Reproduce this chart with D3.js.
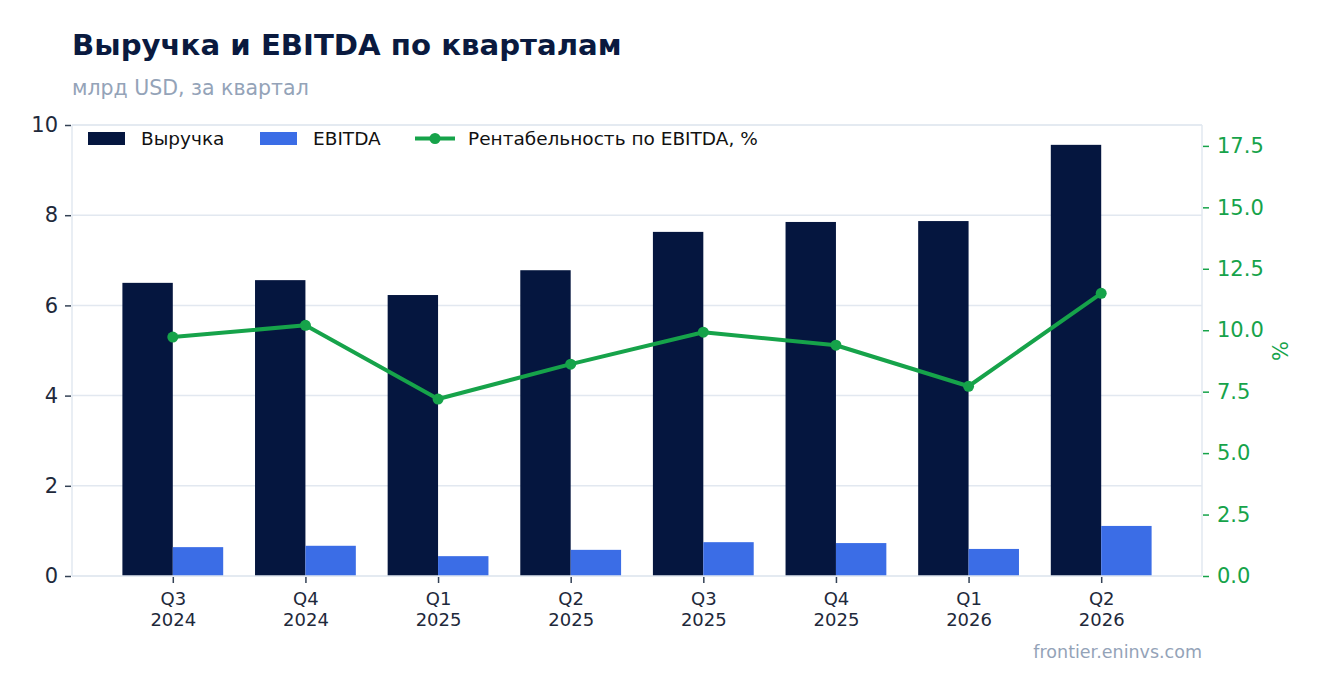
<!DOCTYPE html>
<html>
<head>
<meta charset="utf-8">
<script src="https://cdn.jsdelivr.net/npm/d3@7"></script>
<style>
  body { margin: 0; background: #fff; }
  svg, svg text { font-family: "DejaVu Sans", sans-serif; }
</style>
</head>
<body>
<svg id="chart"></svg>
<script>
// данные по кварталам
const quarters = ['Q3\n2024', 'Q4\n2024', 'Q1\n2025', 'Q2\n2025', 'Q3\n2025', 'Q4\n2025', 'Q1\n2026', 'Q2\n2026'];
const revenue = [6.50, 6.56, 6.23, 6.78, 7.63, 7.85, 7.87, 9.56];
const ebitda = [0.64, 0.67, 0.44, 0.58, 0.75, 0.73, 0.60, 1.11];
const margin = [9.72, 10.20, 7.20, 8.62, 9.92, 9.39, 7.72, 11.50];
const leftTicks = [0, 2, 4, 6, 8, 10];
const rightTicks = [0, 2.5, 5, 7.5, 10, 12.5, 15, 17.5];

const width = 1323, height = 693;
const padding = {top: 125, right: 121, bottom: 117, left: 72};
const navy = '#05163f', blue = '#3b6de6', green = '#16a34a', grid = '#e2e8f0';
const font = '"DejaVu Sans", sans-serif';

const svg = d3.select('#chart')
    .attr('width', width)
    .attr('height', height);

const xScale = d3.scalePoint()
    .domain(d3.range(quarters.length))
    .range([padding.left, width - padding.right])
    .padding(0.76);

const step = xScale.step();
const barW = step * 0.38;

const yLeft = d3.scaleLinear()
    .domain([0, 10])
    .range([height - padding.bottom, padding.top]);

const yRight = d3.scaleLinear()
    .domain([0, 18.35])
    .range([height - padding.bottom, padding.top]);

// сетка
svg.append('g')
    .selectAll('line')
    .data(leftTicks)
    .enter()
    .append('line')
    .attr('x1', padding.left)
    .attr('x2', width - padding.right)
    .attr('y1', d => yLeft(d))
    .attr('y2', d => yLeft(d))
    .attr('stroke', grid)
    .attr('stroke-width', 1.5);

// столбцы выручки
svg.append('g')
    .selectAll('rect')
    .data(revenue)
    .enter()
    .append('rect')
    .attr('x', (d, i) => xScale(i) - barW)
    .attr('y', d => yLeft(d))
    .attr('width', barW)
    .attr('height', d => yLeft(0) - yLeft(d))
    .attr('fill', navy);

// столбцы EBITDA
svg.append('g')
    .selectAll('rect')
    .data(ebitda)
    .enter()
    .append('rect')
    .attr('x', (d, i) => xScale(i))
    .attr('y', d => yLeft(d))
    .attr('width', barW)
    .attr('height', d => yLeft(0) - yLeft(d))
    .attr('fill', blue);

// рамка
const frame = svg.append('g')
    .attr('stroke', grid)
    .attr('stroke-width', 1.5);
frame.append('line')
    .attr('x1', padding.left).attr('x2', padding.left)
    .attr('y1', padding.top).attr('y2', height - padding.bottom);
frame.append('line')
    .attr('x1', width - padding.right).attr('x2', width - padding.right)
    .attr('y1', padding.top).attr('y2', height - padding.bottom);
frame.append('line')
    .attr('x1', padding.left).attr('x2', width - padding.right)
    .attr('y1', padding.top).attr('y2', padding.top);
frame.append('line')
    .attr('x1', padding.left).attr('x2', width - padding.right)
    .attr('y1', height - padding.bottom).attr('y2', height - padding.bottom);

// линия рентабельности
const line = d3.line()
    .x((d, i) => xScale(i))
    .y(d => yRight(d));

svg.append('path')
    .datum(margin)
    .attr('d', line)
    .attr('fill', 'none')
    .attr('stroke', green)
    .attr('stroke-width', 4)
    .attr('stroke-linejoin', 'round');

svg.append('g')
    .selectAll('circle')
    .data(margin)
    .enter()
    .append('circle')
    .attr('cx', (d, i) => xScale(i))
    .attr('cy', d => yRight(d))
    .attr('r', 5.5)
    .attr('fill', green);

// оси
const leftAxis = svg.append('g')
    .attr('transform', `translate(${padding.left - 1}, 0)`)
    .call(d3.axisLeft(yLeft).tickValues(leftTicks).tickSize(6).tickPadding(7).tickFormat(d3.format('d')))
    .attr('font-family', font);
leftAxis.select('.domain').remove();
leftAxis.selectAll('line').attr('stroke', '#334155').attr('stroke-width', 1.5);
leftAxis.selectAll('text').attr('font-size', 21).attr('fill', '#1e293b');

const rightAxis = svg.append('g')
    .attr('transform', `translate(${width - padding.right + 1}, 0)`)
    .call(d3.axisRight(yRight).tickValues(rightTicks).tickSize(6).tickPadding(8).tickFormat(d3.format('.1f')))
    .attr('font-family', font);
rightAxis.select('.domain').remove();
rightAxis.selectAll('line').attr('stroke', green).attr('stroke-width', 1.5);
rightAxis.selectAll('text').attr('font-size', 21).attr('fill', green);

const bottomAxis = svg.append('g')
    .attr('transform', `translate(0, ${height - padding.bottom + 1})`)
    .call(d3.axisBottom(xScale).tickSize(6).tickPadding(6).tickFormat(''))
    .attr('font-family', font);
bottomAxis.select('.domain').remove();
bottomAxis.selectAll('line').attr('stroke', '#334155').attr('stroke-width', 1.5);
bottomAxis.selectAll('.tick')
    .append('text')
    .attr('text-anchor', 'middle')
    .attr('fill', '#1e293b')
    .attr('font-size', 18)
    .selectAll('tspan')
    .data(i => quarters[i].split('\n'))
    .enter()
    .append('tspan')
    .attr('x', 0)
    .attr('y', (d, j) => 28 + j * 21)
    .text(d => d);

// подпись правой оси
svg.append('text')
    .attr('transform', `translate(1288, 351) rotate(-90)`)
    .attr('text-anchor', 'middle')
    .attr('font-size', 21)
    .attr('fill', green)
    .text('%');

// легенда
const legend = svg.append('g')
    .attr('font-size', 18.5)
    .attr('fill', '#111');
legend.append('rect').attr('x', 88).attr('y', 132).attr('width', 37).attr('height', 13).attr('fill', navy);
legend.append('text').attr('x', 141).attr('y', 145).text('Выручка');
legend.append('rect').attr('x', 260).attr('y', 132).attr('width', 37).attr('height', 13).attr('fill', blue);
legend.append('text').attr('x', 313).attr('y', 145).text('EBITDA');
legend.append('line').attr('x1', 415).attr('x2', 455).attr('y1', 138.5).attr('y2', 138.5)
    .attr('stroke', green).attr('stroke-width', 4);
legend.append('circle').attr('cx', 435).attr('cy', 138.5).attr('r', 5.5).attr('fill', green);
legend.append('text').attr('x', 468).attr('y', 145).text('Рентабельность по EBITDA, %');

// заголовки
svg.append('text')
    .attr('x', 72)
    .attr('y', 55)
    .attr('font-size', 29.2)
    .attr('font-weight', 'bold')
    .attr('fill', '#0a1a3f')
    .text('Выручка и EBITDA по кварталам');

svg.append('text')
    .attr('x', 72)
    .attr('y', 95)
    .attr('font-size', 20.5)
    .attr('fill', '#94a3b8')
    .text('млрд USD, за квартал');

svg.append('text')
    .attr('x', width - padding.right)
    .attr('y', 658)
    .attr('text-anchor', 'end')
    .attr('font-size', 17.5)
    .attr('fill', '#94a3b8')
    .text('frontier.eninvs.com');
</script>
</body>
</html>
